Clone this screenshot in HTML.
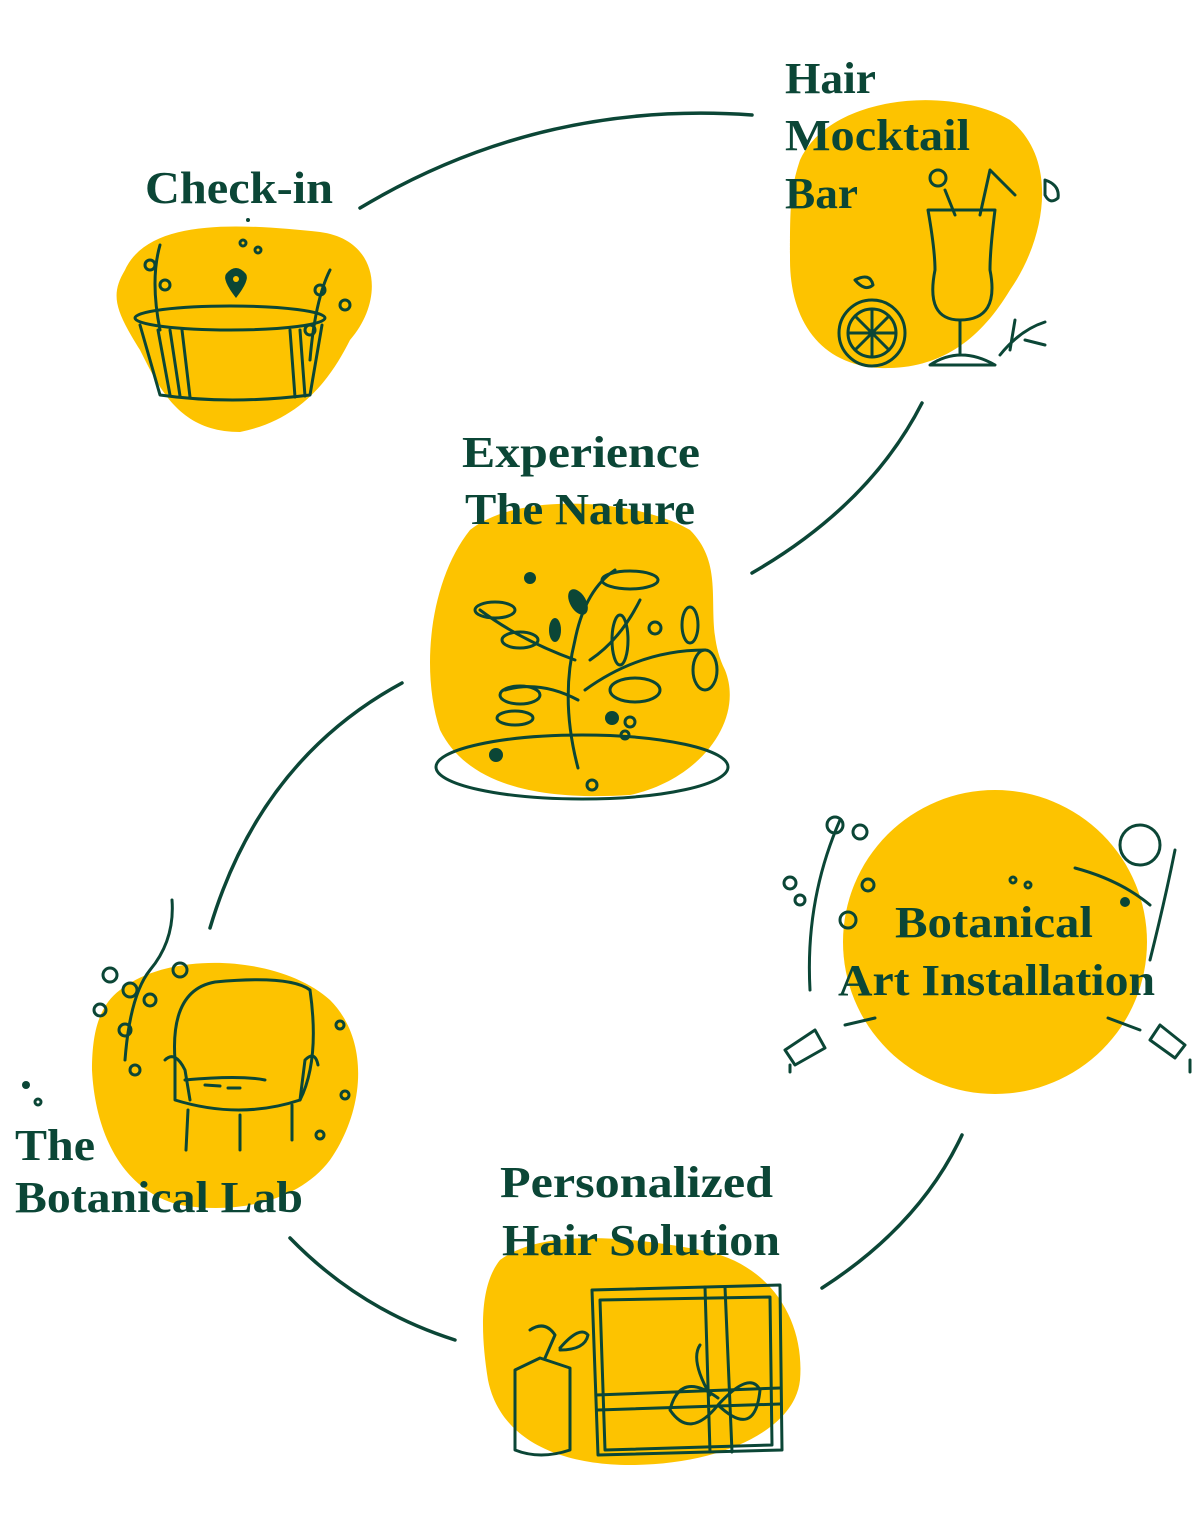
<!DOCTYPE html>
<html><head><meta charset="utf-8"><style>
html,body{margin:0;padding:0;background:#fff}
body{width:1200px;height:1530px;overflow:hidden;position:relative}
svg{position:absolute;left:0;top:0}
text{font-family:"Liberation Serif",serif;font-weight:bold;fill:#0B4636}
</style></head><body>
<svg width="1200" height="1530" viewBox="0 0 1200 1530">
<g fill="#FDC300">
<path d="M125,270 C150,215 250,225 320,232 C380,240 385,300 350,340 C330,380 300,420 240,432 C180,432 160,390 140,350 C115,310 110,295 125,270Z"/>
<path d="M800,160 C830,95 950,85 1010,120 C1060,160 1045,240 1010,290 C980,340 940,370 880,368 C820,365 790,320 790,260 C790,210 790,190 800,160Z"/>
<path d="M470,530 C520,490 640,500 690,530 C730,570 700,620 725,670 C745,720 700,780 630,795 C550,800 470,790 440,730 C420,670 430,580 470,530Z"/>
<path d="M120,990 C170,950 280,955 330,1000 C370,1040 365,1110 330,1160 C300,1200 240,1215 180,1205 C120,1190 95,1130 92,1070 C92,1030 100,1005 120,990Z"/>
<circle cx="995" cy="942" r="152"/>
<path d="M500,1260 C540,1230 620,1235 700,1250 C770,1262 805,1320 800,1380 C795,1430 720,1465 630,1465 C560,1465 500,1440 488,1380 C480,1330 480,1285 500,1260Z"/>
</g>
<g fill="none" stroke="#0B4636" stroke-width="3.5" stroke-linecap="round">
<path d="M360,208 Q540,100 752,115"/>
<path d="M922,403 Q870,505 752,573"/>
<path d="M402,683 Q260,760 210,928"/>
<path d="M290,1238 Q360,1310 455,1340"/>
<path d="M822,1288 Q920,1225 962,1135"/>
</g>
<g fill="none" stroke="#0B4636" stroke-width="3" stroke-linecap="round" stroke-linejoin="round">
<ellipse cx="230" cy="318" rx="95" ry="12"/>
<path d="M140,325 L160,395 Q230,405 310,395 L322,325"/>
<path d="M158,330 L170,395 M170,330 L180,396 M182,330 L190,397 M290,330 L295,397 M300,330 L305,396"/>
<path d="M160,245 Q150,280 160,330 M330,270 Q315,300 310,360"/>
<circle cx="150" cy="265" r="5"/><circle cx="165" cy="285" r="5"/><circle cx="320" cy="290" r="5"/><circle cx="345" cy="305" r="5"/><circle cx="310" cy="330" r="5"/>
<circle cx="243" cy="243" r="3"/><circle cx="258" cy="250" r="3"/>
<path d="M928,210 L995,210 Q990,250 990,270 Q1000,320 960,320 Q925,320 935,270 Q935,250 928,210Z"/>
<path d="M960,320 L960,355 M930,365 Q960,345 995,365 Z"/>
<path d="M980,215 L990,170 L1015,195"/>
<circle cx="938" cy="178" r="8"/><path d="M945,190 L955,215"/>
<circle cx="872" cy="333" r="33"/><circle cx="872" cy="333" r="24"/>
<path d="M872,309 L872,357 M848,333 L896,333 M855,316 L889,350 M889,316 L855,350"/>
<path d="M1045,180 Q1060,185 1058,198 Q1050,205 1045,195Z M855,280 Q870,272 873,285 Q865,292 855,280Z"/>
<path d="M1000,355 Q1020,330 1045,322 M1010,350 L1015,320 M1025,340 L1045,345"/>
<ellipse cx="582" cy="767" rx="146" ry="32"/>
<path d="M578,768 Q560,700 575,640 Q585,590 615,570"/>
<path d="M575,660 Q520,640 480,610 M578,700 Q540,680 505,690 M585,690 Q640,650 705,650 M590,660 Q620,640 640,600"/>
<ellipse cx="495" cy="610" rx="20" ry="8"/><ellipse cx="520" cy="640" rx="18" ry="8"/><ellipse cx="630" cy="580" rx="28" ry="9"/>
<ellipse cx="620" cy="640" rx="8" ry="25"/><ellipse cx="635" cy="690" rx="25" ry="12"/><ellipse cx="705" cy="670" rx="12" ry="20"/>
<ellipse cx="520" cy="695" rx="20" ry="9"/><ellipse cx="515" cy="718" rx="18" ry="7"/><ellipse cx="690" cy="625" rx="8" ry="18"/>
<circle cx="655" cy="628" r="6"/><circle cx="630" cy="722" r="5"/><circle cx="625" cy="735" r="4"/><circle cx="592" cy="785" r="5"/>
<path d="M175,1060 Q170,990 215,982 Q290,975 310,990 Q320,1060 300,1100 Q240,1120 175,1100 Z"/>
<path d="M165,1060 Q175,1050 185,1070 L190,1100 M300,1100 L305,1060 Q315,1050 318,1065"/>
<path d="M185,1080 Q240,1075 265,1080 M205,1085 L220,1086 M228,1088 L240,1088"/>
<path d="M188,1110 L186,1150 M240,1115 L240,1150 M292,1105 L292,1140"/>
<path d="M172,900 Q175,940 150,970 Q130,995 125,1060"/>
<circle cx="110" cy="975" r="7"/><circle cx="130" cy="990" r="7"/><circle cx="150" cy="1000" r="6"/><circle cx="125" cy="1030" r="6"/><circle cx="100" cy="1010" r="6"/><circle cx="180" cy="970" r="7"/><circle cx="135" cy="1070" r="5"/>
<circle cx="340" cy="1025" r="4"/><circle cx="345" cy="1095" r="4"/><circle cx="320" cy="1135" r="4"/><circle cx="38" cy="1102" r="3"/>
<path d="M810,990 Q805,900 840,820 M1150,960 Q1165,900 1175,850"/>
<circle cx="835" cy="825" r="8"/><circle cx="860" cy="832" r="7"/><circle cx="790" cy="883" r="6"/><circle cx="800" cy="900" r="5"/><circle cx="848" cy="920" r="8"/><circle cx="868" cy="885" r="6"/>
<circle cx="1140" cy="845" r="20"/><path d="M1075,868 Q1120,880 1150,905"/>
<path d="M785,1050 L815,1030 L825,1048 L795,1065 Z M845,1025 L875,1018 M1185,1045 L1160,1025 L1150,1040 L1175,1058 Z M1108,1018 L1140,1030"/>
<path d="M790,1065 L790,1072 M1190,1060 L1190,1072"/>
<circle cx="1013" cy="880" r="3"/><circle cx="1028" cy="885" r="3"/>
<path d="M592,1290 L780,1285 L782,1450 L598,1455 Z M600,1300 L770,1297 L772,1445 L605,1450Z"/>
<path d="M705,1287 L710,1452 M725,1287 L732,1452 M596,1395 L780,1388 M598,1410 L780,1404"/>
<path d="M718,1398 Q680,1370 670,1410 Q690,1440 718,1405 Q750,1370 760,1390 Q755,1440 718,1405 M700,1345 Q690,1360 710,1395"/>
<path d="M515,1370 L540,1358 L570,1368 L570,1450 Q540,1460 515,1450 Z M530,1330 Q545,1320 555,1335 L545,1358 M560,1348 Q580,1325 588,1335 Q585,1350 560,1350"/>
</g>
<g fill="#0B4636">
<path d="M236,298 Q222,280 226,274 Q236,262 246,274 Q250,280 236,298Z" /><circle cx="236" cy="279" r="3" fill="#FDC300"/>
<circle cx="248" cy="220" r="2"/>
<circle cx="530" cy="578" r="6"/><circle cx="612" cy="718" r="7"/><circle cx="496" cy="755" r="7"/>
<ellipse cx="578" cy="602" rx="8" ry="14" transform="rotate(-30 578 602)"/><ellipse cx="555" cy="630" rx="6" ry="12"/>
<circle cx="26" cy="1085" r="4"/><circle cx="1125" cy="902" r="5"/>
</g>
<g lengthAdjust="spacingAndGlyphs">
<text x="145" y="203" font-size="46" textLength="188" lengthAdjust="spacingAndGlyphs">Check-in</text>
<text x="785" y="93" font-size="44" textLength="91" lengthAdjust="spacingAndGlyphs">Hair</text>
<text x="785" y="150" font-size="44" textLength="185" lengthAdjust="spacingAndGlyphs">Mocktail</text>
<text x="785" y="208" font-size="44" textLength="73" lengthAdjust="spacingAndGlyphs">Bar</text>
<text x="462" y="467" font-size="44" textLength="238" lengthAdjust="spacingAndGlyphs">Experience</text>
<text x="465" y="524" font-size="44" textLength="230" lengthAdjust="spacingAndGlyphs">The Nature</text>
<text x="15" y="1160" font-size="44" textLength="80" lengthAdjust="spacingAndGlyphs">The</text>
<text x="15" y="1212" font-size="44" textLength="288" lengthAdjust="spacingAndGlyphs">Botanical Lab</text>
<text x="895" y="937" font-size="44" textLength="198" lengthAdjust="spacingAndGlyphs">Botanical</text>
<text x="838" y="995" font-size="44" textLength="317" lengthAdjust="spacingAndGlyphs">Art Installation</text>
<text x="500" y="1197" font-size="44" textLength="273" lengthAdjust="spacingAndGlyphs">Personalized</text>
<text x="502" y="1255" font-size="44" textLength="278" lengthAdjust="spacingAndGlyphs">Hair Solution</text>
</g>
</svg>
</body></html>
